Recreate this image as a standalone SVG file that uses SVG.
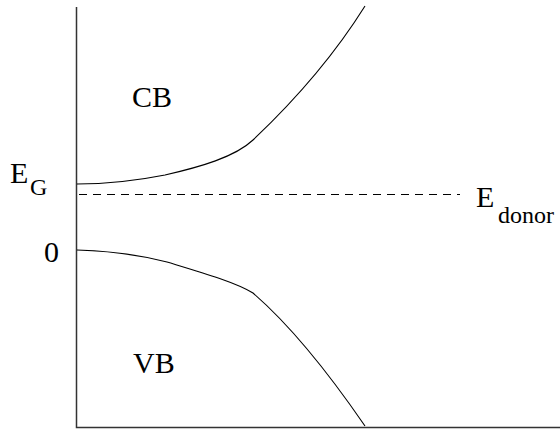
<svg xmlns="http://www.w3.org/2000/svg" width="560" height="429" viewBox="0 0 560 429">
<style>
.ax{stroke:#333;stroke-width:1.5;fill:none}
.cv{stroke:#000;stroke-width:1.1;fill:none}
.ds{stroke:#000;stroke-width:1.1;fill:none;stroke-dasharray:8 6}
text{font-family:"Liberation Serif","Times New Roman",serif;fill:#000}
.m{font-size:30px}
.s{font-size:24px}
</style>
<rect width="560" height="429" fill="#fff"/>
<g id="axes">
<path class="ax" d="M76.5 7 V427.5 H560"/>
</g>
<g id="connectors">
<path id="cb-curve" class="cv" d="M77 184 C110 184 140 180 165 175 C200 167 235 157 253 140 C290 105 330 62 365 6"/>
<path id="vb-curve" class="cv" d="M77 250 C110 251 140 255 167 262 C200 272 235 282 253 293 C290 325 330 375 365 426"/>
<path id="donor-line" class="ds" d="M79 194.5 H460"/>
</g>
<g id="label-cb"><text class="m" x="132" y="107">CB</text></g>
<g id="label-vb"><text class="m" x="133" y="373">VB</text></g>
<g id="label-eg"><text class="m" x="10" y="183">E</text><text class="s" x="30" y="195">G</text></g>
<g id="label-zero"><text class="m" x="59" y="262" text-anchor="end">0</text></g>
<g id="label-edonor"><text class="m" x="476" y="207">E</text><text class="s" x="498" y="223">donor</text></g>
</svg>
